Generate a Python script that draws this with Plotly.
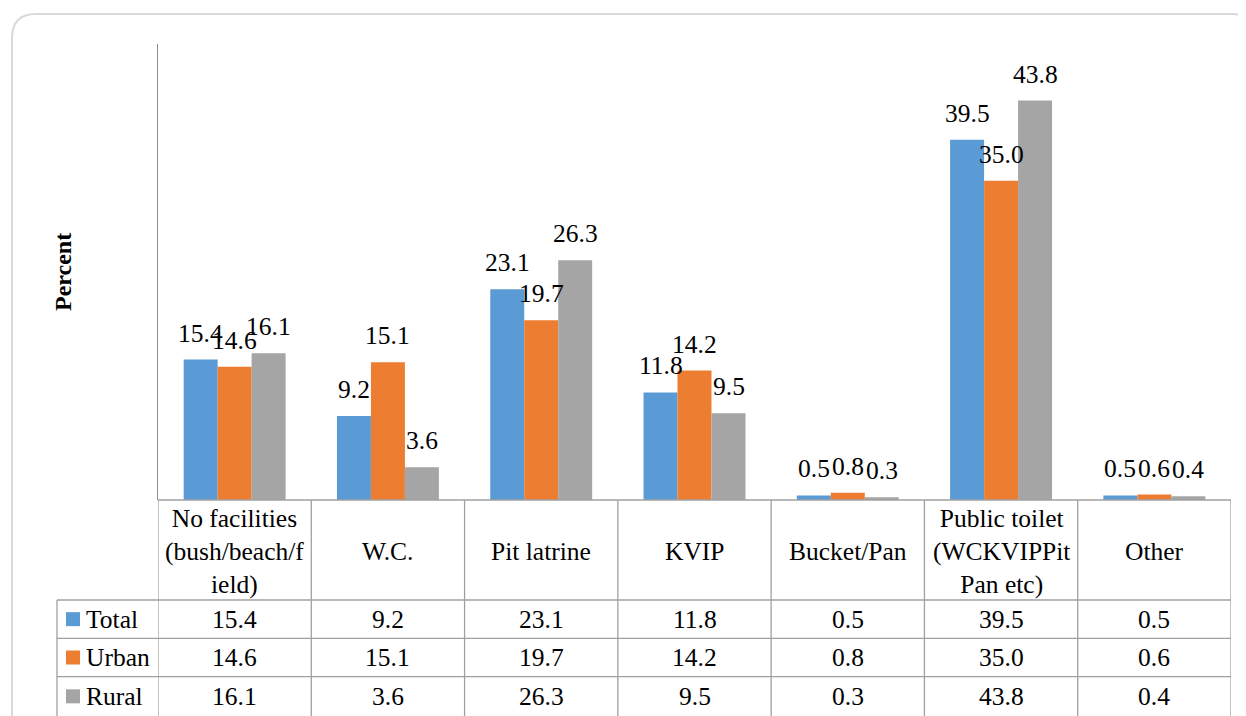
import plotly.graph_objects as go

categories = ["No facilities (bush/beach/field)", "W.C.", "Pit latrine", "KVIP",
              "Bucket/Pan", "Public toilet (WCKVIPPit Pan etc)", "Other"]
header_labels = ["No facilities<br>(bush/beach/f<br>ield)", "W.C.", "Pit latrine", "KVIP",
                 "Bucket/Pan", "Public toilet<br>(WCKVIPPit<br>Pan etc)", "Other"]
series_names = ["Total", "Urban", "Rural"]
total = [15.4, 9.2, 23.1, 11.8, 0.5, 39.5, 0.5]
urban = [14.6, 15.1, 19.7, 14.2, 0.8, 35.0, 0.6]
rural = [16.1, 3.6, 26.3, 9.5, 0.3, 43.8, 0.4]
series_values = [total, urban, rural]
colors = ["#5B9BD5", "#ED7D31", "#A5A5A5"]

W, H = 1246, 716
OFF = 8  # page body margin offset
L, R, T, B = 158, 1231, 44, 500  # plot area in screenshot pixels
FONT = "'Times New Roman', 'Liberation Serif', 'DejaVu Serif', serif"


def px(X):
    return (X - L) / (R - L)


def py(Y):
    return (B - Y) / (B - T)


fig = go.Figure()
for name, vals, col in zip(series_names, series_values, colors):
    fig.add_trace(go.Bar(name=name, x=categories, y=vals, marker=dict(color=col, line=dict(width=0)),
                         hoverinfo="x+y+name"))

annotations = []
shapes = []
bar_px = 34
# data labels
for si, vals in enumerate(series_values):
    for c, v in zip(categories, vals):
        annotations.append(dict(x=c, y=v, xref="x", yref="y", text=f"{v:.1f}", showarrow=False,
                                xanchor="center", yanchor="bottom", xshift=(si - 1) * bar_px, yshift=10,
                                font=dict(family=FONT, size=25.5, color="#000000")))

# table
line_col = "#A0A0A0"
row_edges = [500, 600, 638.3, 676.7, 716]
bottom_y = 730
shapes.append(dict(type="line", xref="paper", yref="paper", x0=0, x1=1, y0=py(500), y1=py(500),
                   line=dict(color=line_col, width=1.3)))
for Y in row_edges[1:4]:
    shapes.append(dict(type="line", xref="paper", yref="paper", x0=px(57), x1=1, y0=py(Y), y1=py(Y),
                       line=dict(color=line_col, width=1.3)))
for i in range(len(categories) + 1):
    shapes.append(dict(type="line", xref="x", yref="paper", x0=i - 0.5, x1=i - 0.5,
                       y0=py(500), y1=py(bottom_y), line=dict(color=line_col, width=1.3)))
shapes.append(dict(type="line", xref="paper", yref="paper", x0=px(57), x1=px(57),
                   y0=py(600), y1=py(bottom_y), line=dict(color=line_col, width=1.3)))

# header text
for c, lab in zip(categories, header_labels):
    annotations.append(dict(x=c, y=py(551), xref="x", yref="paper", text=lab, showarrow=False,
                            xanchor="center", yanchor="middle",
                            font=dict(family=FONT, size=25.5, color="#000000")))
# value rows
for ri, (name, vals, col) in enumerate(zip(series_names, series_values, colors)):
    yc = (row_edges[ri + 1] + row_edges[ri + 2]) / 2
    for c, v in zip(categories, vals):
        annotations.append(dict(x=c, y=py(yc), xref="x", yref="paper", text=f"{v:.1f}", showarrow=False,
                                xanchor="center", yanchor="middle",
                                font=dict(family=FONT, size=25.5, color="#000000")))
    annotations.append(dict(x=px(84), y=py(yc), xref="paper", yref="paper", text=name, showarrow=False,
                            xanchor="left", yanchor="middle",
                            font=dict(family=FONT, size=25.5, color="#000000")))
    shapes.append(dict(type="rect", xref="paper", yref="paper", x0=px(66), x1=px(80),
                       y0=py(yc - 7), y1=py(yc + 7), fillcolor=col, line=dict(width=0)))

# y-axis title
annotations.append(dict(x=px(63), y=py(272), xref="paper", yref="paper", text="<b>Percent</b>",
                        showarrow=False, textangle=-90, xanchor="center", yanchor="middle",
                        font=dict(family=FONT, size=24, color="#000000")))

# rounded chart border
bl, bt, br, bb, rr = 12, 14, 1256, 760, 24
path = (f"M {px(bl)},{py(bb)} L {px(bl)},{py(bt + rr)} Q {px(bl)},{py(bt)} {px(bl + rr)},{py(bt)} "
        f"L {px(br - rr)},{py(bt)} Q {px(br)},{py(bt)} {px(br)},{py(bt + rr)} L {px(br)},{py(bb)}")
shapes.append(dict(type="path", xref="paper", yref="paper", path=path,
                   line=dict(color="#D9D9D9", width=2)))

fig.update_layout(
    width=W, height=H,
    margin=dict(l=L - OFF, r=W - R + OFF, t=T - OFF, b=H - B + OFF),
    paper_bgcolor="white", plot_bgcolor="white",
    barmode="group", bargap=0.335, bargroupgap=0,
    showlegend=False,
    annotations=annotations, shapes=shapes,
    font=dict(family=FONT, color="#000000"),
)
fig.update_xaxes(showticklabels=False, ticks="", showgrid=False, zeroline=False, showline=False,
                 range=[-0.5, len(categories) - 0.5])
fig.update_yaxes(range=[0, 50], showticklabels=False, ticks="", showgrid=False, zeroline=False,
                 showline=True, linecolor="#8C8C8C", linewidth=1.3)

fig.write_html("out.html")
